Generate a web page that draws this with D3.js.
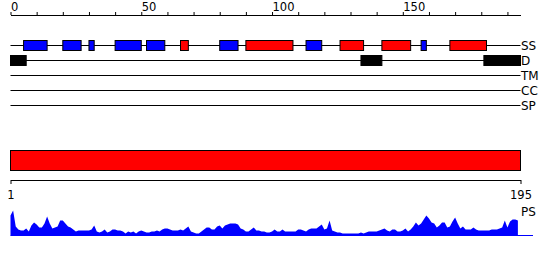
<!DOCTYPE html>
<html>
<head>
<meta charset="utf-8">
<script src="https://cdn.jsdelivr.net/npm/d3@7"></script>
<style>
  body { margin: 0; background: #fff; }
  svg { display: block; font-family: "DejaVu Sans", sans-serif; }
</style>
</head>
<body>
<div id="chart"></div>
<script>
// secondary structure segments (residue start, end, type)
const ssStart = [5, 20, 30, 40, 52, 65, 80, 90, 113, 126, 142, 157, 168];
const ssEnd   = [14, 27, 32, 50, 59, 68, 87, 108, 119, 135, 153, 159, 182];
const ssType  = ['E', 'E', 'E', 'E', 'E', 'H', 'E', 'H', 'E', 'H', 'H', 'E', 'H'];

// disordered regions
const domStart = [0, 134, 181];
const domEnd   = [6, 142, 195];

const trackNames = ['SS', 'D', 'TM', 'CC', 'SP'];
const topTicks = [0, 10, 20, 30, 40, 50, 60, 70, 80, 90, 100, 110, 120, 130, 140, 150, 160, 170, 180, 190];
const seqEnds = [1, 195];

// PS profile, one value per residue
const psValues = [
  20, 25, 9, 6, 5, 5, 7, 4, 10, 13, 11, 8, 8, 12, 19, 12, 7, 8, 9, 15,
  15, 12, 9, 8, 6, 4, 5, 5, 5, 5, 5, 6, 10, 4, 3, 4, 6, 3, 4, 6,
  6, 5, 5, 4, 2, 4, 3, 4, 2, 4, 5, 4, 3, 3, 4, 4, 5, 4, 6, 7,
  7, 6, 5, 5, 5, 6, 5, 7, 9, 4, 3, 2, 2, 4, 6, 8, 8, 6, 6, 9,
  10, 7, 10, 11, 12, 12, 12, 11, 7, 6, 4, 4, 6, 8, 5, 5, 4, 4, 3, 3,
  4, 6, 4, 4, 6, 4, 4, 4, 4, 4, 6, 6, 5, 4, 6, 7, 7, 7, 9, 11,
  6, 7, 15, 5, 4, 3, 3, 2, 2, 2, 2, 2, 2, 2, 3, 2, 3, 4, 4, 4,
  4, 5, 6, 7, 5, 4, 6, 6, 4, 4, 5, 7, 4, 6, 9, 13, 10, 12, 16, 20,
  17, 13, 12, 8, 10, 13, 13, 8, 9, 14, 18, 12, 7, 9, 6, 6, 6, 8, 6, 5,
  5, 5, 5, 5, 6, 6, 6, 7, 8, 15, 8, 14, 16, 16, 15
];

const width = 550;
const height = 260;

const svg = d3.select('#chart').append('svg')
  .attr('width', width)
  .attr('height', height);

const x = d3.scaleLinear()
  .domain([0, 195])
  .range([10.5, 520.5]);

const xSeq = d3.scaleLinear()
  .domain(seqEnds)
  .range([10.5, 520.5]);

const trackY = d3.scalePoint()
  .domain(trackNames)
  .range([45.5, 105.5]);

// top ruler
const topAxis = d3.axisTop(x)
  .tickValues(topTicks)
  .tickSize(3)
  .tickSizeOuter(0)
  .tickPadding(1)
  .tickFormat(d => d % 50 === 0 ? d : '');

const gTop = svg.append('g')
  .attr('transform', 'translate(0,15)')
  .call(topAxis);
gTop.select('.domain').attr('stroke', '#000');
gTop.selectAll('.tick line').attr('stroke', '#000');
gTop.selectAll('.tick text')
  .attr('text-anchor', 'start')
  .attr('fill', '#000')
  .style('font-size', '11.5px')
  .style('font-family', '"DejaVu Sans", sans-serif');

// track lines and labels
svg.selectAll('.track-line')
  .data(trackNames)
  .join('line')
  .attr('class', 'track-line')
  .attr('x1', x(0))
  .attr('x2', x(195))
  .attr('y1', d => trackY(d))
  .attr('y2', d => trackY(d))
  .attr('stroke', '#000');

svg.selectAll('.track-label')
  .data(trackNames)
  .join('text')
  .attr('class', 'track-label')
  .attr('x', x(195) + 0.5)
  .attr('y', d => trackY(d))
  .attr('dy', '0.36em')
  .style('font-size', '12px')
  .text(d => d);

// secondary structure boxes
const ss = ssStart.map((s, i) => ({ start: s, end: ssEnd[i], type: ssType[i] }));
svg.selectAll('.ss')
  .data(ss)
  .join('rect')
  .attr('class', 'ss')
  .attr('x', d => x(d.start))
  .attr('width', d => x(d.end) - x(d.start))
  .attr('y', trackY('SS') - 5)
  .attr('height', 10)
  .attr('fill', d => d.type === 'H' ? '#ff0000' : '#0000ff')
  .attr('stroke', '#000');

// disorder boxes
const dom = domStart.map((s, i) => ({ start: s, end: domEnd[i] }));
svg.selectAll('.dom')
  .data(dom)
  .join('rect')
  .attr('class', 'dom')
  .attr('x', d => x(d.start))
  .attr('width', d => x(d.end) - x(d.start))
  .attr('y', trackY('D') - 5)
  .attr('height', 10)
  .attr('fill', '#000')
  .attr('stroke', '#000');

// full-length bar
svg.append('rect')
  .attr('x', xSeq(seqEnds[0]))
  .attr('width', xSeq(seqEnds[1]) - xSeq(seqEnds[0]))
  .attr('y', 150.5)
  .attr('height', 20)
  .attr('fill', '#ff0000')
  .attr('stroke', '#000');

// sequence ruler
const seqAxis = d3.axisBottom(xSeq)
  .tickValues(seqEnds)
  .tickSize(4)
  .tickSizeOuter(0)
  .tickPadding(7)
  .tickFormat(d3.format('d'));

const gSeq = svg.append('g')
  .attr('transform', 'translate(0,180)')
  .call(seqAxis);
gSeq.select('.domain').attr('stroke', '#000');
gSeq.selectAll('.tick line').attr('stroke', '#000');
gSeq.selectAll('.tick text')
  .attr('fill', '#000')
  .style('font-size', '11.5px')
  .style('font-family', '"DejaVu Sans", sans-serif');

// PS profile
const y = d3.scaleLinear()
  .domain([0, 30])
  .range([235.5, 205.5]);

const area = d3.area()
  .x((d, i) => x(i))
  .y0(y(0))
  .y1(d => y(d));

svg.append('path')
  .datum(psValues)
  .attr('d', area)
  .attr('fill', '#0000ff');

svg.append('line')
  .attr('x1', x(0))
  .attr('x2', 533)
  .attr('y1', y(0))
  .attr('y2', y(0))
  .attr('stroke', '#0000ff');

svg.append('text')
  .attr('x', 521)
  .attr('y', 216)
  .style('font-size', '12px')
  .text('PS');
</script>
</body>
</html>
